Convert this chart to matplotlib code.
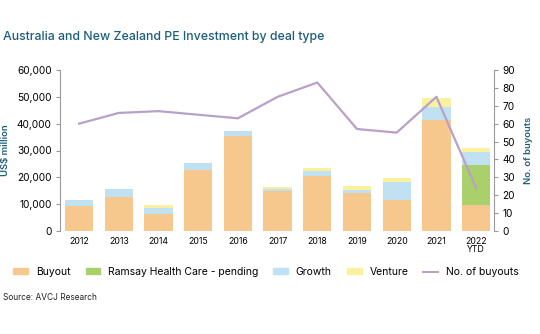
import matplotlib.pyplot as plt
from matplotlib.patches import Patch
from matplotlib.lines import Line2D
import numpy as np

plt.rcParams['font.family'] = ['Inter', 'DejaVu Sans']

years = ["2012", "2013", "2014", "2015", "2016", "2017", "2018", "2019", "2020", "2021", "2022\nYTD"]
buyout = [9500, 12700, 6300, 22600, 35300, 15000, 20600, 14000, 11400, 41500, 9800]
ramsay = [0, 0, 0, 0, 0, 0, 0, 0, 0, 0, 14800]
growth = [1900, 3100, 2400, 2700, 1900, 700, 1700, 1400, 6700, 4800, 4700]
venture = [0, 0, 1000, 0, 0, 700, 1100, 1400, 1700, 3400, 1600]
n_buyouts = [60, 66, 67, 65, 63, 75, 83, 57, 55, 75, 24]

c_buyout = "#F6C88E"
c_ramsay = "#A9D06B"
c_growth = "#BFE1F2"
c_venture = "#FAF1A0"
c_line = "#B8A0C8"
c_teal = "#1D5E7A"
c_axis = "#9A9A9A"

fig = plt.figure(figsize=(5.4, 3.34), dpi=100)
ax = fig.add_axes([60/540, 1 - 231/334, (494 - 60)/540, (231 - 70)/334])

x = np.arange(len(years))
w = 0.71
b0 = np.array(buyout)
b1 = b0 + np.array(ramsay)
b2 = b1 + np.array(growth)
ax.bar(x, buyout, w, color=c_buyout, zorder=2)
ax.bar(x, ramsay, w, bottom=b0, color=c_ramsay, zorder=2)
ax.bar(x, growth, w, bottom=b1, color=c_growth, zorder=2)
ax.bar(x, venture, w, bottom=b2, color=c_venture, zorder=2)

ax.set_ylim(0, 60000)
ax.set_yticks(range(0, 60001, 10000))
ax.set_yticklabels([f"{v:,}" for v in range(0, 60001, 10000)])
ax.set_xlim(-0.48, 10.45)
ax.set_xticks(x)
ax.set_xticklabels(years, fontsize=6.3, linespacing=0.9)
ax.tick_params(axis='x', length=0, pad=4)
ax.tick_params(axis='y', labelsize=7.3, length=3, color=c_axis, width=0.8, pad=3)
for s in ["top", "bottom", "right"]:
    ax.spines[s].set_visible(False)
ax.spines["left"].set_color(c_axis)
ax.spines["left"].set_linewidth(0.8)
ax.set_ylabel("US$ million", fontsize=6.8, color=c_teal, fontweight="semibold", labelpad=5)

ax2 = ax.twinx()
ax2.plot(x, n_buyouts, color=c_line, lw=1.6, zorder=3)
ax2.set_ylim(0, 90)
ax2.set_yticks(range(0, 91, 10))
ax2.tick_params(axis='y', labelsize=7.3, length=3, color=c_axis, width=0.8, pad=3)
for s in ["top", "bottom", "left"]:
    ax2.spines[s].set_visible(False)
ax2.spines["right"].set_color(c_axis)
ax2.spines["right"].set_linewidth(0.8)
ax2.set_ylabel("No. of buyouts", fontsize=6.8, color=c_teal, fontweight="semibold", labelpad=6)

fig.text(3/540, 1 - 37/334, "Australia and New Zealand PE Investment by deal type",
         fontsize=8.9, color=c_teal, fontweight="medium", va="center", ha="left")

handles = [
    Patch(color=c_buyout, label="Buyout"),
    Patch(color=c_ramsay, label="Ramsay Health Care - pending"),
    Patch(color=c_growth, label="Growth"),
    Patch(color=c_venture, label="Venture"),
    Line2D([], [], color=c_line, lw=1.4, label="No. of buyouts"),
]
fig.legend(handles=handles, loc="center", bbox_to_anchor=(266/540, 1 - 272/334), ncol=5,
           frameon=False, fontsize=7.5, handlelength=1.4, handleheight=0.55,
           handletextpad=0.75, columnspacing=1.45, borderaxespad=0, borderpad=0)

fig.text(3/540, 1 - 297/334, "Source: AVCJ Research", fontsize=6.0, color="#222222",
         va="center", ha="left")

fig.savefig("out.png", dpi=100)
